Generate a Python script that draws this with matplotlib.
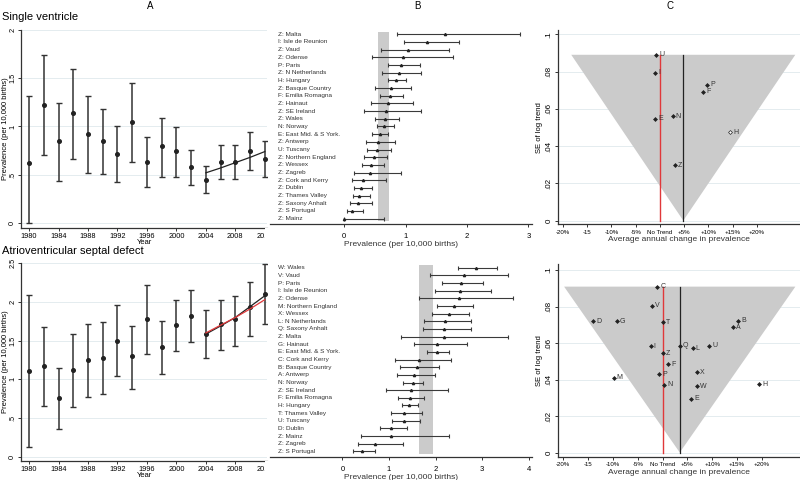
import matplotlib.pyplot as plt
from matplotlib.patches import Rectangle, Polygon

plt.rcParams["font.family"] = ["Liberation Sans", "DejaVu Sans"]

# --- A: prevalence by year ---
YEARS = [1980, 1982, 1984, 1986, 1988, 1990, 1992, 1994, 1996,
         1998, 2000, 2002, 2004, 2006, 2008, 2010, 2012]
YEAR_TICKS = [1980, 1984, 1988, 1992, 1996, 2000, 2004, 2008, 2012]

SV_PREV = [0.62, 1.22, 0.845, 1.14, 0.92, 0.845, 0.71, 1.045, 0.63,
           0.80, 0.75, 0.58, 0.445, 0.635, 0.63, 0.745, 0.665]
SV_LOW = [0.0, 0.70, 0.44, 0.66, 0.52, 0.51, 0.42, 0.63, 0.376,
          0.48, 0.48, 0.39, 0.31, 0.455, 0.455, 0.545, 0.475]
SV_HIGH = [1.32, 1.74, 1.24, 1.60, 1.32, 1.18, 1.0, 1.45, 0.89,
           1.09, 0.99, 0.76, 0.59, 0.81, 0.81, 0.94, 0.85]
SV_TREND_YEARS = [2004, 2006, 2008, 2010, 2012]
SV_TREND = [0.52, 0.57, 0.625, 0.68, 0.74]

AVSD_PREV = [1.11, 1.17, 0.76, 1.12, 1.25, 1.28, 1.50, 1.30, 1.78,
             1.42, 1.70, 1.82, 1.58, 1.72, 1.78, 1.93, 2.10]
AVSD_LOW = [0.13, 0.655, 0.36, 0.64, 0.77, 0.81, 1.04, 0.875, 1.33,
            1.07, 1.37, 1.48, 1.27, 1.38, 1.435, 1.565, 1.72]
AVSD_HIGH = [2.09, 1.68, 1.15, 1.59, 1.72, 1.74, 1.96, 1.69, 2.22,
             1.75, 2.02, 2.16, 1.89, 2.03, 2.08, 2.26, 2.49]
AVSD_TREND_YEARS = [2004, 2006, 2008, 2010, 2012]
AVSD_TREND = [1.585, 1.69, 1.80, 1.94, 2.08]
AVSD_TREND_ALT = [1.60, 1.70, 1.80, 1.91, 2.03]

# --- B: prevalence by registry ---
SV_REGIONS = ["Z: Malta", "I: Isle de Reunion", "Z: Vaud", "Z: Odense", "P: Paris",
              "Z: N Netherlands", "H: Hungary", "Z: Basque Country", "F: Emilia Romagna",
              "Z: Hainaut", "Z: SE Ireland", "Z: Wales", "N: Norway",
              "E: East Mid. & S York.", "Z: Antwerp", "U: Tuscany", "Z: Northern England",
              "Z: Wessex", "Z: Zagreb", "Z: Cork and Kerry", "Z: Dublin",
              "Z: Thames Valley", "Z: Saxony Anhalt", "Z: S Portugal", "Z: Mainz"]
SV_REG_PREV = [1.64, 1.35, 1.04, 0.96, 0.93, 0.886, 0.84, 0.755, 0.745, 0.707, 0.68,
               0.668, 0.64, 0.576, 0.55, 0.527, 0.478, 0.44, 0.424, 0.30, 0.266,
               0.24, 0.223, 0.12, 0.0]
SV_REG_LOW = [0.853, 0.98, 0.60, 0.46, 0.71, 0.61, 0.72, 0.505, 0.576, 0.43, 0.33,
              0.495, 0.527, 0.46, 0.35, 0.375, 0.33, 0.293, 0.158, 0.12, 0.158,
              0.136, 0.098, 0.038, 0.0]
SV_REG_HIGH = [2.87, 1.87, 1.71, 1.78, 1.24, 1.255, 1.0, 1.09, 0.96, 1.12, 1.255,
               0.897, 0.81, 0.72, 0.83, 0.755, 0.696, 0.652, 0.918, 0.68, 0.46,
               0.413, 0.46, 0.304, 0.652]
SV_BAND = [0.554, 0.728]

AVSD_REGIONS = ["W: Wales", "V: Vaud", "P: Paris", "I: Isle de Reunion", "Z: Odense",
                "M: Northern England", "X: Wessex", "L: N Netherlands", "Q: Saxony Anhalt",
                "Z: Malta", "G: Hainaut", "E: East Mid. & S York.", "C: Cork and Kerry",
                "B: Basque Country", "A: Antwerp", "N: Norway", "Z: SE Ireland",
                "F: Emilia Romagna", "H: Hungary", "T: Thames Valley", "U: Tuscany",
                "D: Dublin", "Z: Mainz", "Z: Zagreb", "Z: S Portugal"]
AVSD_REG_PREV = [2.875, 2.62, 2.54, 2.52, 2.50, 2.39, 2.29, 2.21, 2.19, 2.19, 2.04,
                 2.03, 1.64, 1.61, 1.53, 1.505, 1.48, 1.44, 1.43, 1.33, 1.32, 1.04,
                 1.04, 0.70, 0.41]
AVSD_REG_LOW = [2.49, 1.87, 2.13, 1.99, 1.64, 2.04, 1.93, 1.75, 1.73, 1.25, 1.53,
                1.82, 1.125, 1.24, 1.18, 1.30, 0.93, 1.20, 1.27, 1.05, 1.06, 0.80,
                0.39, 0.34, 0.23]
AVSD_REG_HIGH = [3.32, 3.56, 3.02, 3.18, 3.66, 2.81, 2.72, 2.75, 2.75, 3.56, 2.68,
                 2.29, 2.33, 2.08, 1.99, 1.74, 2.26, 1.76, 1.63, 1.70, 1.66, 1.38,
                 2.28, 1.30, 0.69]
AVSD_BAND = [1.65, 1.94]

# --- C: funnel of annual change ---
SV_CODES = ["U", "I", "P", "F", "E", "N", "H", "Z"]
SV_CHANGE = [-0.82, -1.03, 9.7, 8.87, -1.03, 2.6, 14.4, 3.0]
SV_SE = [0.089, 0.0794, 0.0728, 0.0692, 0.0547, 0.056, 0.0475, 0.0296]
SV_HOLLOW = ["H"]
SV_MEAN_CHANGE = 4.8
SV_FUNNEL_SE = 0.089
SV_FUNNEL_HALF = 23.1

AVSD_CODES = ["C", "V", "D", "G", "T", "B", "A", "I", "Q", "L", "U", "Z",
              "F", "X", "P", "M", "N", "W", "H", "E"]
AVSD_CHANGE = [-1.05, -2.06, -13.95, -9.24, 0.0, 15.2, 14.15, -2.4, 3.47, 6.09,
               9.37, 0.0, 1.11, 6.9, -0.64, -9.84, 0.3, 6.96, 19.46, 5.75]
AVSD_SE = [0.0909, 0.0803, 0.0719, 0.0719, 0.0715, 0.0722, 0.0686, 0.0582, 0.0584,
           0.0571, 0.0585, 0.0545, 0.0483, 0.0439, 0.043, 0.041, 0.0372, 0.0363,
           0.0375, 0.0295]
AVSD_HOLLOW = []
AVSD_MEAN_CHANGE = 3.47
AVSD_FUNNEL_SE = 0.0909
AVSD_FUNNEL_HALF = 23.3

CHANGE_TICKS = [-20, -15, -10, -5, 0, 5, 10, 15, 20]
CHANGE_LABELS = ["-20%", "-15", "-10%", "-5%", "No Trend", "+5%", "+10%", "+15%", "+20%"]
SE_TICKS = [0, 0.02, 0.04, 0.06, 0.08, 0.1]
SE_LABELS = ["0", ".02", ".04", ".06", ".08", ".1"]

INK = "#222222"
GRID = "#e4ecef"
SHADE = "#cbcbcb"
RED = "#e0383a"
W, H = 800, 480


def px_axes(fig, left, top, right, bottom):
    # pixel box (from top-left) -> figure fraction axes
    return fig.add_axes([left / W, 1 - bottom / H, (right - left) / W, (bottom - top) / H])


def px_point(fig, x, y):
    return x / W, 1 - y / H


def style_spines(ax, left=True):
    for side in ["top", "right"]:
        ax.spines[side].set_visible(False)
    ax.spines["left"].set_visible(left)
    for side in ["left", "bottom"]:
        ax.spines[side].set_color("#333333")
        ax.spines[side].set_linewidth(0.9)
    ax.tick_params(length=2.5, width=0.7, color="#333333", labelsize=5.3, pad=1.5)


def draw_year_panel(fig, ax, prev, low, high, trend_years, trends, ylim, yticks, ylabels,
                    year_y, label_y):
    yerr = [[p - lo for p, lo in zip(prev, low)], [hi - p for p, hi in zip(prev, high)]]
    ax.errorbar(YEARS, prev, yerr=yerr, fmt="o", ms=2.6, color=INK, ecolor="#333333",
                elinewidth=1.1, capsize=2.4, capthick=1.0, zorder=3)
    for values, color in trends:
        ax.plot(trend_years, values, color=color, lw=0.9, zorder=4)

    ax.set_xlim(1978.9, 2012.3)
    ax.set_ylim(*ylim)
    ax.set_xticks(YEAR_TICKS)
    ax.set_yticks(yticks)
    ax.set_yticklabels(ylabels, rotation=90, va="center")
    ax.grid(axis="y", color=GRID, lw=0.7)
    ax.set_axisbelow(True)
    style_spines(ax)
    ax.tick_params(axis="y", pad=1)
    ax.set_xlabel("Year", fontsize=5.5)
    ax.set_ylabel("Prevalence (per 10,000 births)", fontsize=5.5)
    ax.xaxis.set_label_coords(*px_point(fig, 145, year_y), transform=fig.transFigure)
    ax.yaxis.set_label_coords(*px_point(fig, 6, label_y), transform=fig.transFigure)
    ax.xaxis.label.set_va("center")
    ax.yaxis.label.set_va("center")


def draw_region_panel(ax, names, prev, low, high, band, xlim, xticks):
    rows = list(range(len(names)))
    xerr = [[p - lo for p, lo in zip(prev, low)], [hi - p for p, hi in zip(prev, high)]]
    ax.fill_betweenx([-0.3, len(names) - 0.7], band[0], band[1], color=SHADE, lw=0, zorder=1)
    ax.errorbar(prev, rows, xerr=xerr, fmt="^", ms=1.6, color=INK, ecolor="#3a3a3a",
                elinewidth=0.8, capsize=1.4, capthick=0.8, zorder=3)
    for row, name in zip(rows, names):
        ax.text(0.03, row, name, transform=ax.get_yaxis_transform(), fontsize=4.6,
                va="center", ha="left", color="#333333")

    ax.set_xlim(*xlim)
    ax.set_ylim(len(names) - 0.3, -0.56)
    ax.set_xticks(xticks)
    ax.set_yticks([])
    style_spines(ax, left=False)
    ax.tick_params(axis="x", labelsize=5.5, pad=4)
    ax.set_xlabel("Prevalence (per 10,000 births)", fontsize=6, labelpad=1, color="#333333")


def draw_funnel_panel(ax, codes, change, se, hollow, mean, funnel_se, half, xlim, ylim):
    ax.add_patch(Polygon([(mean - half, funnel_se), (mean + half, funnel_se), (mean, 0)],
                         closed=True, facecolor=SHADE, edgecolor="none", zorder=1))
    ax.plot([mean, mean], [0, funnel_se], color=INK, lw=0.9, zorder=2)
    ax.plot([0, 0], [0, funnel_se], color=RED, lw=1.0, zorder=2)

    for code, x, y in zip(codes, change, se):
        face = "white" if code in hollow else INK
        ax.plot(x, y, marker="D", ms=2.0, mfc=face, mec=INK, mew=0.5, zorder=4)
        ax.annotate(code, (x, y), xytext=(2.2, 0), textcoords="offset points",
                    fontsize=5, va="center", ha="left", color="#333333", zorder=4)

    ax.set_xlim(*xlim)
    ax.set_ylim(*ylim)
    ax.set_xticks(CHANGE_TICKS)
    ax.set_xticklabels(CHANGE_LABELS)
    ax.set_yticks(SE_TICKS)
    ax.set_yticklabels(SE_LABELS, rotation=90, va="center")
    ax.grid(axis="y", color=GRID, lw=0.7)
    ax.set_axisbelow(True)
    style_spines(ax)
    ax.tick_params(axis="x", labelsize=4.4)
    ax.tick_params(axis="y", labelsize=5.8)
    ax.set_xlabel("Average annual change in prevalence", fontsize=6, labelpad=1,
                  color="#333333")
    ax.set_ylabel("SE of log trend", fontsize=5.5, labelpad=2)


def main():
    fig = plt.figure(figsize=(8, 4.8), dpi=100)

    ax_a1 = px_axes(fig, 21, 30, 267, 227.8)
    draw_year_panel(fig, ax_a1, SV_PREV, SV_LOW, SV_HIGH, SV_TREND_YEARS,
                    [(SV_TREND, INK)], (-0.05, 2.0),
                    [0, 0.5, 1, 1.5, 2], ["0", ".5", "1", "1.5", "2"], 243, 129)

    ax_a2 = px_axes(fig, 21, 263.3, 267, 460.7)
    draw_year_panel(fig, ax_a2, AVSD_PREV, AVSD_LOW, AVSD_HIGH, AVSD_TREND_YEARS,
                    [(AVSD_TREND, INK), (AVSD_TREND_ALT, RED)], (-0.052, 2.5),
                    [0, 0.5, 1, 1.5, 2, 2.5], ["0", ".5", "1", "1.5", "2", "2.5"], 475.5, 362)

    ax_b1 = px_axes(fig, 270, 30, 532, 224)
    draw_region_panel(ax_b1, SV_REGIONS, SV_REG_PREV, SV_REG_LOW, SV_REG_HIGH,
                      SV_BAND, (-1.21, 3.06), [0, 1, 2, 3])

    ax_b2 = px_axes(fig, 270, 263.5, 532, 456.7)
    draw_region_panel(ax_b2, AVSD_REGIONS, AVSD_REG_PREV, AVSD_REG_LOW, AVSD_REG_HIGH,
                      AVSD_BAND, (-1.555, 4.07), [0, 1, 2, 3, 4])

    ax_c1 = px_axes(fig, 558.3, 30, 800, 224.3)
    draw_funnel_panel(ax_c1, SV_CODES, SV_CHANGE, SV_SE, SV_HOLLOW, SV_MEAN_CHANGE,
                      SV_FUNNEL_SE, SV_FUNNEL_HALF, (-20.97, 28.87), (-0.002, 0.1023))

    ax_c2 = px_axes(fig, 558.3, 264, 800, 456.7)
    draw_funnel_panel(ax_c2, AVSD_CODES, AVSD_CHANGE, AVSD_SE, AVSD_HOLLOW, AVSD_MEAN_CHANGE,
                      AVSD_FUNNEL_SE, AVSD_FUNNEL_HALF, (-21.0, 27.7), (-0.0023, 0.1033))

    # the last year label is cut off by the neighbouring panel
    for top in [228, 461]:
        fig.patches.append(Rectangle((265.3 / W, 1 - (top + 12) / H), 20 / W, 12 / H,
                                     transform=fig.transFigure, facecolor="white",
                                     edgecolor="none", zorder=1))

    fig.text(150 / W, 1 - 6 / H, "A", fontsize=7, ha="center", va="center")
    fig.text(417 / W, 1 - 6 / H, "B", fontsize=7, ha="center", va="center")
    fig.text(670 / W, 1 - 6 / H, "C", fontsize=7, ha="center", va="center")
    fig.text(2 / W, 1 - 17 / H, "Single ventricle", fontsize=8, ha="left", va="center")
    fig.text(2 / W, 1 - 251 / H, "Atrioventricular septal defect", fontsize=8,
             ha="left", va="center")

    fig.savefig("out.png", dpi=100, facecolor="white")


if __name__ == "__main__":
    main()
